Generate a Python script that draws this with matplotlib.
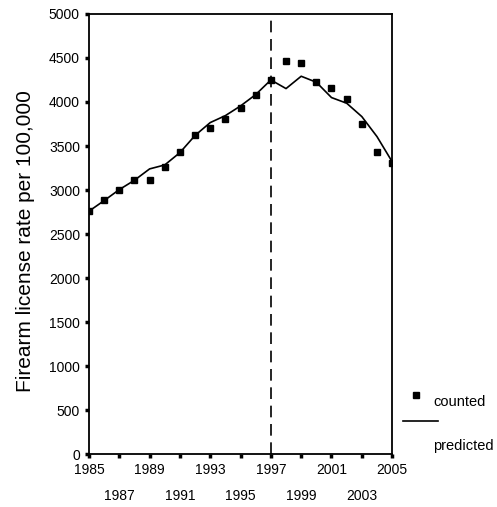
import matplotlib
matplotlib.use("Agg")
import matplotlib.pyplot as plt
from matplotlib.lines import Line2D

plt.rcParams["font.family"] = ["Liberation Sans", "DejaVu Sans"]

years = list(range(1985, 2006))
counted = [2760, 2884, 3005, 3111, 3118, 3266, 3436, 3626, 3709, 3808, 3936,
           4084, 4250, 4466, 4444, 4224, 4160, 4035, 3754, 3429, 3311]
predicted = [2760, 2880, 3005, 3111, 3240, 3285, 3425, 3620, 3766, 3845, 3955,
             4084, 4250, 4152, 4292, 4224, 4050, 3986, 3834, 3607, 3322]
break_year = 1997
tick_years = list(range(1985, 2006, 2))

fig = plt.figure(figsize=(4.97, 5.07), dpi=100)
ax = fig.add_axes([0.179, 0.104, 0.610, 0.8686])

ax.plot(years, predicted, color="black", lw=1.2, zorder=2)
ax.plot(years, counted, ls="none", marker="s", ms=5, color="black", zorder=3)
ax.axvline(break_year, color="black", lw=1.2, dashes=(7, 4), zorder=1)

ax.set_xlim(1985, 2005)
ax.set_ylim(0, 5000)
ax.set_yticks(range(0, 5001, 500))
ax.set_xticks(tick_years)
ax.set_xticklabels([str(y) for y in tick_years])
for i, t in enumerate(ax.xaxis.get_major_ticks()):
    t.set_pad(3 if i % 2 == 0 else 22)

ax.tick_params(axis="both", direction="out", length=3, width=2.5, labelsize=10)
for s in ax.spines.values():
    s.set_linewidth(1.3)

ax.set_ylabel("Firearm license rate per 100,000", fontsize=15)
ax.yaxis.set_label_coords(-0.178, 0.485)

# legend outside the axes
fig.add_artist(Line2D([416 / 497], [1 - 395 / 507], marker="s", ms=5,
                      color="black", ls="none", transform=fig.transFigure))
fig.text(433 / 497, 1 - 402 / 507, "counted", fontsize=10.5, va="center")
fig.add_artist(Line2D([403 / 497, 438 / 497], [1 - 421 / 507] * 2,
                      color="black", lw=1.2, transform=fig.transFigure))
fig.text(433 / 497, 1 - 446 / 507, "predicted", fontsize=10.5, va="center")

fig.savefig("out.png", dpi=100)
